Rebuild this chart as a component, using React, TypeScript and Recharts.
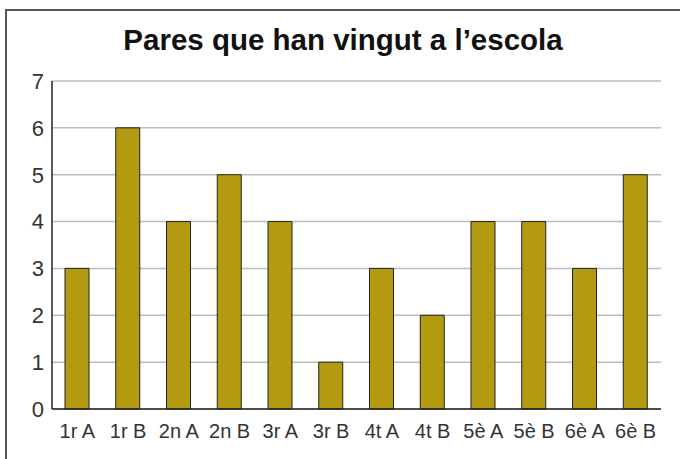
import React from "react";
import { BarChart, Bar, XAxis, YAxis, CartesianGrid } from "recharts";

const classes = ["1r A", "1r B", "2n A", "2n B", "3r A", "3r B", "4t A", "4t B", "5è A", "5è B", "6è A", "6è B"];
const parents = [3, 6, 4, 5, 4, 1, 3, 2, 4, 4, 3, 5];
const yTicks = [0, 1, 2, 3, 4, 5, 6, 7];

const data = classes.map((name, i) => ({ name, value: parents[i] }));

const tickFont = "'Liberation Sans', Arial, sans-serif";

export default function App() {
    return (
        <div style={{ position: "fixed", left: 0, top: 0, width: 680, height: 459, background: "#fff", overflow: "hidden" }}>
            <div
                style={{
                    position: "absolute",
                    left: 5,
                    top: 9,
                    width: 720,
                    height: 500,
                    borderTop: "2px solid #555",
                    borderLeft: "2px solid #555",
                }}
            />
            <div
                style={{
                    position: "absolute",
                    left: 0,
                    top: 23,
                    width: 686,
                    textAlign: "center",
                    fontFamily: "'Liberation Sans', Arial, sans-serif",
                    fontWeight: 700,
                    fontSize: 29.5,
                    color: "#111",
                }}
            >
                Pares que han vingut a l’escola
            </div>
            <div style={{ position: "absolute", left: 0, top: 0 }}>
                <BarChart
                    width={680}
                    height={459}
                    data={data}
                    margin={{ top: 81, right: 19, left: 0, bottom: 20 }}
                    barSize={24}
                >
                    <CartesianGrid vertical={false} stroke="#bdbdbd" strokeWidth={1.5} />
                    <XAxis
                        dataKey="name"
                        height={30}
                        axisLine={{ stroke: "#222", strokeWidth: 1.5 }}
                        tickLine={false}
                        tickMargin={9}
                        interval={0}
                        tick={{ fill: "#333", fontSize: 20, fontFamily: tickFont }}
                    />
                    <YAxis
                        width={52}
                        domain={[0, 7]}
                        ticks={yTicks}
                        axisLine={{ stroke: "#222", strokeWidth: 1.5 }}
                        tickLine={false}
                        tick={{ fill: "#333", fontSize: 22, fontFamily: tickFont }}
                    />
                    <Bar
                        dataKey="value"
                        fill="#b39a10"
                        stroke="#222"
                        strokeWidth={1}
                        isAnimationActive={false}
                    />
                </BarChart>
            </div>
        </div>
    );
}
